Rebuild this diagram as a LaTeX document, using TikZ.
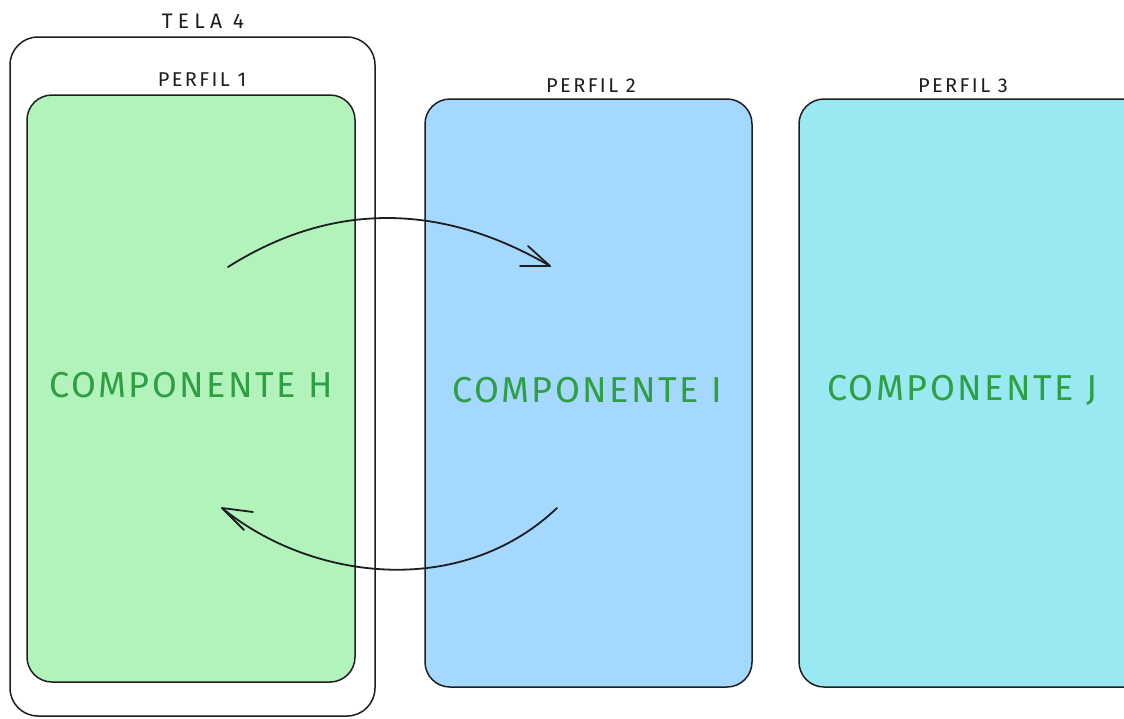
\documentclass[tikz,border=0pt]{standalone}
\usepackage{fontspec}
\setmainfont{Fira Sans}
\usetikzlibrary{positioning}
\definecolor{ink}{HTML}{1E1E1E}
\definecolor{gfill}{HTML}{B2F2BB}
\definecolor{bfill}{HTML}{A5D8FF}
\definecolor{cfill}{HTML}{99E9F2}
\definecolor{gtext}{HTML}{2F9E44}
\tikzset{
  frame/.style={draw=ink, line width=1.5pt, rounded corners=28pt},
  panel/.style={draw=ink, line width=1.5pt, rounded corners=25pt},
  small/.style={text=ink, font=\fontsize{20}{24}\selectfont\addfontfeature{LetterSpace=12}, inner sep=0pt},
  title/.style={text=ink, font=\fontsize{21}{24}\selectfont\addfontfeature{LetterSpace=25}, inner sep=0pt},
  comp/.style={text=gtext, font=\fontsize{36}{40}\selectfont\addfontfeature{LetterSpace=7}, inner sep=0pt},
  link/.style={draw=ink, line width=1.8pt, line cap=round, line join=round}
}
\begin{document}
\begin{tikzpicture}[x=1pt,y=-1pt]
\useasboundingbox (0,0) rectangle (1124,718);
% outer frame
\draw[frame] (10,37) rectangle (375,716);
\node[title] (tela) at (203,21) {TELA 4};
% panels
\draw[panel, fill=gfill] (27,95) rectangle (355,682);
\draw[panel, fill=bfill] (425,99) rectangle (752,687);
\draw[panel, fill=cfill] (799,99) rectangle (1150,687);
\node[small] (p1) at (202,80) {PERFIL 1};
\node[small] (p2) at (591,86) {PERFIL 2};
\node[small] (p3) at (963,86) {PERFIL 3};
\node[comp] (h) at (191,385) {COMPONENTE H};
\node[comp] (i) at (587,390) {COMPONENTE I};
\node[comp] (j) at (962,390) {COMPONENTE J};
% arrows
\coordinate (a1s) at (228,267);
\coordinate (a1e) at (550,266);
\coordinate (a1b1) at (520,266);
\coordinate (a1b2) at (528,246);
\draw[link] (a1s) .. controls (310,215) and (420,190) .. (a1e);
\draw[link] (a1b1) -- (a1e) -- (a1b2);
\coordinate (a2s) at (557,508);
\coordinate (a2e) at (222,508);
\coordinate (a2b1) at (253,512);
\coordinate (a2b2) at (244,530);
\draw[link] (a2s) .. controls (460,600) and (310,580) .. (a2e);
\draw[link] (a2b1) -- (a2e) -- (a2b2);
\end{tikzpicture}
\end{document}
